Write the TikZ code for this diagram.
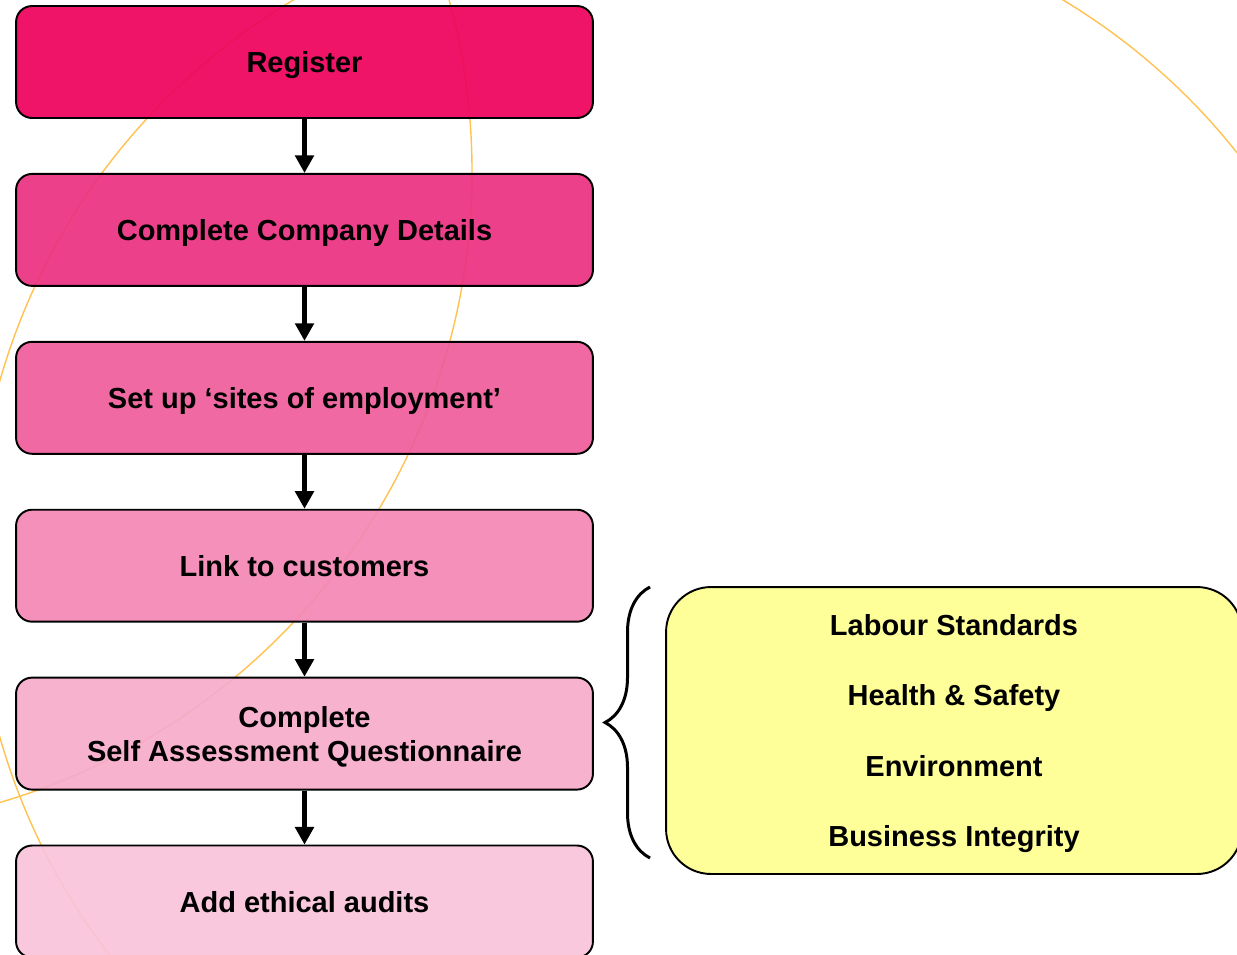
\documentclass[tikz,border=0pt]{standalone}
\usepackage{fontspec}
\setmainfont{Liberation Sans}
\usepackage{tikz}
\usetikzlibrary{shapes,arrows.meta,positioning,decorations.pathreplacing}
\definecolor{stepA}{RGB}{239,0,92}
\definecolor{stepB}{RGB}{234,49,128}
\definecolor{stepC}{RGB}{239,92,154}
\definecolor{stepD}{RGB}{243,135,180}
\definecolor{stepE}{RGB}{246,171,202}
\definecolor{stepF}{RGB}{248,195,217}
\definecolor{arcorange}{RGB}{255,194,80}
\definecolor{paleyellow}{RGB}{255,255,153}

\begin{document}
\begin{tikzpicture}[x=0.02cm,y=-0.02cm,
				stage/.style={draw,line width=1.1pt,rounded corners=0.32cm,
					minimum width=11.54cm,minimum height=2.24cm,align=center,
					font=\fontsize{16.5pt}{19.3pt}\selectfont\bfseries,text depth=0pt,
					fill opacity=0.92,text opacity=1},
				flow/.style={line width=2.3pt,-{Triangle[width=10.5pt,length=10pt]}},
				node distance=1.08cm]
				\useasboundingbox (0,0) rectangle (1237,954);
				\begin{scope}
					\clip (0,0) rectangle (1237,954);
					\draw[arcorange,line width=0.8pt] (319.8,-14.9) arc[start angle=-118,end angle=-222,radius=650];
					\draw[arcorange,line width=0.8pt] (432.4,-52.7) arc[start angle=-20,end angle=78,radius=657];
					\draw[arcorange,line width=0.8pt] (1033.2,-16.9) arc[start angle=-62,end angle=-30,radius=650];
				\end{scope}
				\node[stage,fill=stepA] (reg) at (304.5,62) {Register};
				\node[stage,fill=stepB,below=of reg] (details) {Complete Company Details};
				\node[stage,fill=stepC,below=of details] (sites) {Set up `sites of employment'};
				\node[stage,fill=stepD,below=of sites] (link) {Link to customers};
				\node[stage,fill=stepE,below=of link] (saq) {Complete\\Self Assessment Questionnaire};
				\node[stage,fill=stepF,below=of saq] (audits) {Add ethical audits};
				\foreach \a/\b in {reg/details,details/sites,sites/link,link/saq,saq/audits}{
					\draw[flow] (\a) -- (\b);
				}
				\node[draw,line width=1.1pt,rounded corners=0.9cm,fill=paleyellow,
					minimum width=11.52cm,minimum height=5.74cm,align=center,text depth=0pt,
					font=\fontsize{16.5pt}{40pt}\selectfont\bfseries] (areas) at (954,730.5)
					{Labour Standards\\Health \& Safety\\Environment\\Business Integrity};
				\coordinate (bracetop) at (650,587);
				\coordinate (bracebot) at (650,858);
				\draw[line width=1.7pt,decorate,decoration={brace,amplitude=0.9cm}] (bracebot) -- (bracetop);
\end{tikzpicture}
\end{document}
